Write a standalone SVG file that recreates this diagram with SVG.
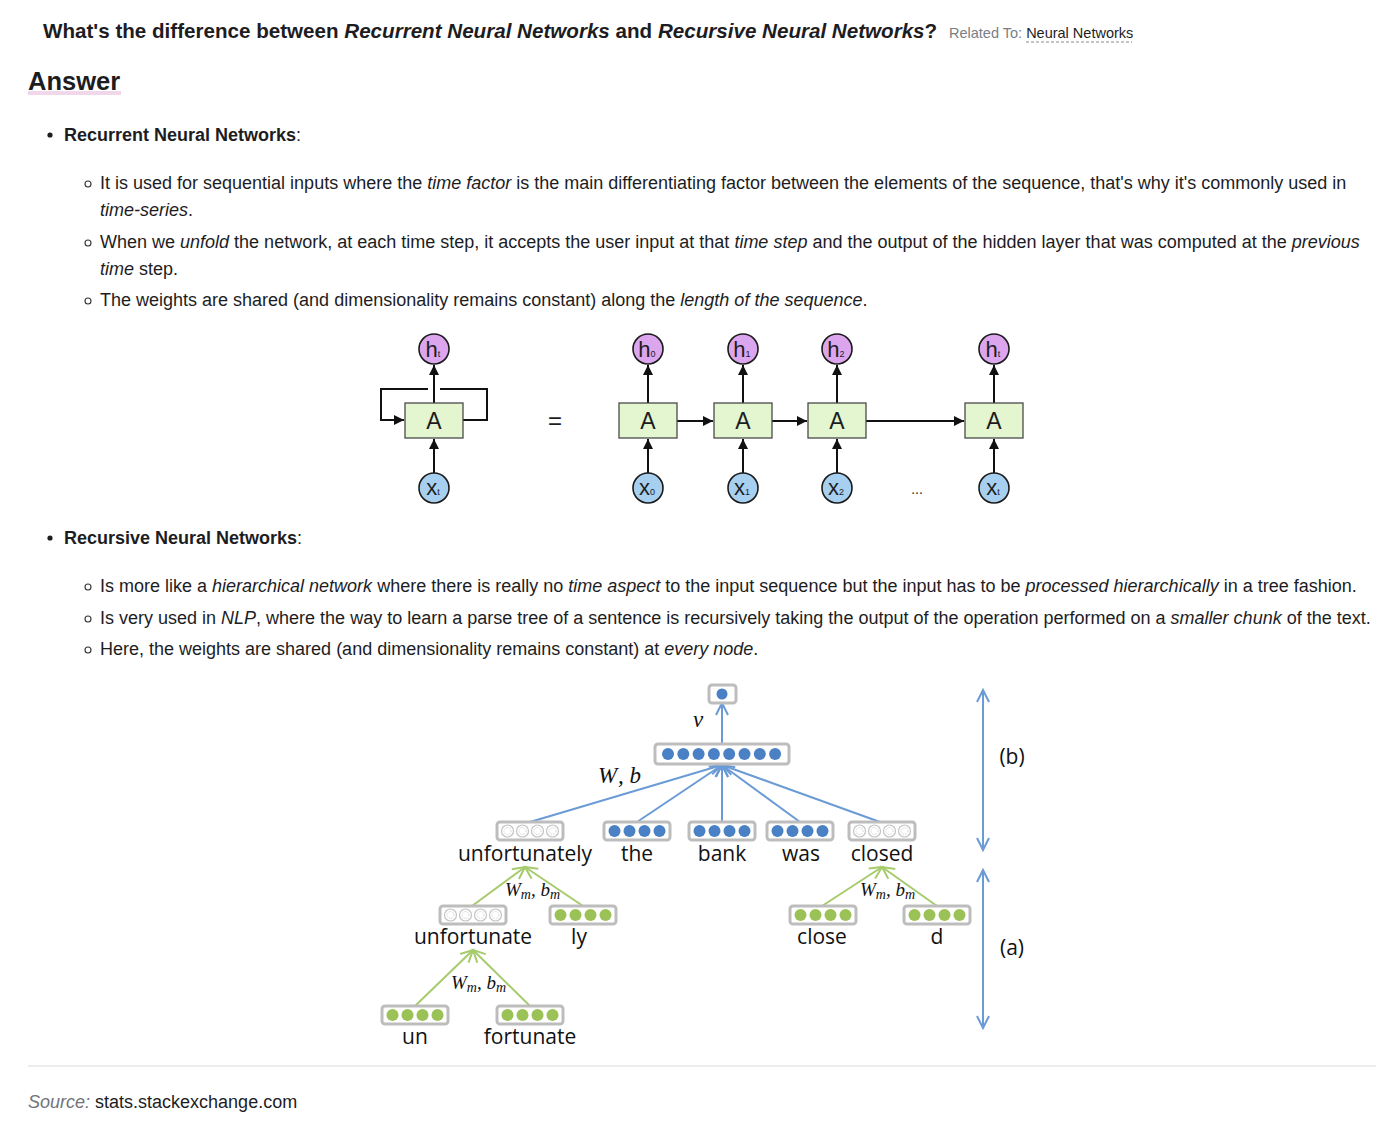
<svg xmlns="http://www.w3.org/2000/svg" width="1398" height="1126" viewBox="0 0 1398 1126">
<style>
text{font-family:"Liberation Sans",Arial,sans-serif;fill:#1d1d1f}
.b{font-size:18px}
.i{font-style:italic}
.h{font-weight:bold}
.box{fill:#e3f6cf;stroke:#4a4a4a;stroke-width:1.3}
.hc{fill:#dca6ee;stroke:#1a1a1a;stroke-width:1.6}
.xc{fill:#a7d0f0;stroke:#1a1a1a;stroke-width:1.6}
.bl{stroke:#111;stroke-width:2;fill:none}
.A{font-size:23px;text-anchor:middle}
.cl{font-size:22px;text-anchor:middle}
.sub{font-size:9px}
.vb{fill:#fff;stroke:#bdbdbd;stroke-width:3}
.bd{fill:#4a80c4}
.gd{fill:#9bc256}
.hd{fill:#fff;stroke:#c4c4c4;stroke-width:1.2}
.hi{fill:none;stroke:#cfcfcf;stroke-width:1;stroke-dasharray:1 1}
.blu{stroke:#6b9bd6;stroke-width:2;fill:none}
.grn{stroke:#a6cb6c;stroke-width:2;fill:none}
.w{font-family:"Open Sans","Lato",sans-serif;font-size:21px;text-anchor:middle;fill:#111}
.m{font-family:"Liberation Serif",serif;font-style:italic;fill:#111}
</style>
<defs>
<marker id="ab" markerUnits="userSpaceOnUse" markerWidth="12" markerHeight="12" refX="10" refY="6" orient="auto"><path d="M0,1 L10,6 L0,11 z" fill="#111"/></marker>
<marker id="cb" markerUnits="userSpaceOnUse" markerWidth="16" markerHeight="16" refX="13" refY="8" orient="auto-start-reverse"><path d="M1,2 L13,8 L1,14" fill="none" stroke="#6b9bd6" stroke-width="2"/></marker>
<marker id="cg" markerUnits="userSpaceOnUse" markerWidth="16" markerHeight="16" refX="13" refY="8" orient="auto"><path d="M1,2 L13,8 L1,14" fill="none" stroke="#a6cb6c" stroke-width="2"/></marker>
<g id="hollow4">
<circle class="hd" cx="0" cy="0" r="6"/><circle class="hi" cx="0" cy="0" r="3.5"/>
<circle class="hd" cx="15" cy="0" r="6"/><circle class="hi" cx="15" cy="0" r="3.5"/>
<circle class="hd" cx="30" cy="0" r="6"/><circle class="hi" cx="30" cy="0" r="3.5"/>
<circle class="hd" cx="45" cy="0" r="6"/><circle class="hi" cx="45" cy="0" r="3.5"/>
</g>
<g id="blue4"><circle class="bd" cx="0" cy="0" r="6"/><circle class="bd" cx="15" cy="0" r="6"/><circle class="bd" cx="30" cy="0" r="6"/><circle class="bd" cx="45" cy="0" r="6"/></g>
<g id="green4"><circle class="gd" cx="0" cy="0" r="6"/><circle class="gd" cx="15" cy="0" r="6"/><circle class="gd" cx="30" cy="0" r="6"/><circle class="gd" cx="45" cy="0" r="6"/></g>
</defs>
<rect width="1398" height="1126" fill="#fff"/>

<g id="header">
<text x="43" y="38" class="h" font-size="20.6">What's the difference between <tspan class="i">Recurrent Neural Networks</tspan> and <tspan class="i">Recursive Neural Networks</tspan>?</text>
<text x="949" y="38" font-size="14.5" style="fill:#7a7f85">Related To: <tspan style="fill:#1d1d1f">Neural Networks</tspan></text>
<line x1="1026" y1="42" x2="1132" y2="42" stroke="#888" stroke-width="1" stroke-dasharray="3 2"/>
<rect x="28" y="91" width="93" height="4" fill="#f0d8ea"/>
<text x="28" y="90" class="h" font-size="25.5">Answer</text>
</g>

<g id="text-rnn">
<circle cx="50" cy="135" r="2.6" fill="#1d1d1f"/>
<text x="64" y="141" class="b"><tspan class="h">Recurrent Neural Networks</tspan>:</text>
<circle cx="88" cy="184" r="3" fill="none" stroke="#333" stroke-width="1.1"/>
<text x="100" y="189" class="b">It is used for sequential inputs where the <tspan class="i">time factor</tspan> is the main differentiating factor between the elements of the sequence, that's why it's commonly used in</text>
<text x="100" y="216" class="b"><tspan class="i">time-series</tspan>.</text>
<circle cx="88" cy="243" r="3" fill="none" stroke="#333" stroke-width="1.1"/>
<text x="100" y="248" class="b">When we <tspan class="i">unfold</tspan> the network, at each time step, it accepts the user input at that <tspan class="i">time step</tspan> and the output of the hidden layer that was computed at the <tspan class="i">previous</tspan></text>
<text x="100" y="275" class="b"><tspan class="i">time</tspan> step.</text>
<circle cx="88" cy="301" r="3" fill="none" stroke="#333" stroke-width="1.1"/>
<text x="100" y="306" class="b">The weights are shared (and dimensionality remains constant) along the <tspan class="i">length of the sequence</tspan>.</text>
</g>

<g id="rnn-connectors">
<line class="bl" x1="434" y1="473" x2="434" y2="439" marker-end="url(#ab)"/>
<line class="bl" x1="434" y1="403" x2="434" y2="365" marker-end="url(#ab)"/>
<path class="bl" d="M463,420 H487 V389 H440 M428,389 H381 V420 H404" marker-end="url(#ab)"/>
<line class="bl" x1="648" y1="473" x2="648" y2="439" marker-end="url(#ab)"/>
<line class="bl" x1="648" y1="403" x2="648" y2="365" marker-end="url(#ab)"/>
<line class="bl" x1="743" y1="473" x2="743" y2="439" marker-end="url(#ab)"/>
<line class="bl" x1="743" y1="403" x2="743" y2="365" marker-end="url(#ab)"/>
<line class="bl" x1="837" y1="473" x2="837" y2="439" marker-end="url(#ab)"/>
<line class="bl" x1="837" y1="403" x2="837" y2="365" marker-end="url(#ab)"/>
<line class="bl" x1="994" y1="473" x2="994" y2="439" marker-end="url(#ab)"/>
<line class="bl" x1="994" y1="403" x2="994" y2="365" marker-end="url(#ab)"/>
<line class="bl" x1="677" y1="421" x2="713" y2="421" marker-end="url(#ab)"/>
<line class="bl" x1="772" y1="421" x2="807" y2="421" marker-end="url(#ab)"/>
<line class="bl" x1="866" y1="421" x2="964" y2="421" marker-end="url(#ab)"/>
</g>

<g id="rnn-folded">
<rect class="box" x="405" y="403" width="58" height="35"/><text x="434" y="429" class="A">A</text>
<circle class="hc" cx="434" cy="349" r="15"/><text x="433" y="357" class="cl">h<tspan class="sub">t</tspan></text>
<circle class="xc" cx="434" cy="488" r="15"/><text x="433" y="495" class="cl">x<tspan class="sub">t</tspan></text>
</g>
<text x="555" y="429" font-size="24" text-anchor="middle">=</text>

<g id="rnn-0">
<rect class="box" x="619" y="403" width="58" height="35"/><text x="648" y="429" class="A">A</text>
<circle class="hc" cx="648" cy="349" r="15"/><text x="647" y="357" class="cl">h<tspan class="sub">0</tspan></text>
<circle class="xc" cx="648" cy="488" r="15"/><text x="647" y="495" class="cl">x<tspan class="sub">0</tspan></text>
</g>
<g id="rnn-1">
<rect class="box" x="714" y="403" width="58" height="35"/><text x="743" y="429" class="A">A</text>
<circle class="hc" cx="743" cy="349" r="15"/><text x="742" y="357" class="cl">h<tspan class="sub">1</tspan></text>
<circle class="xc" cx="743" cy="488" r="15"/><text x="742" y="495" class="cl">x<tspan class="sub">1</tspan></text>
</g>
<g id="rnn-2">
<rect class="box" x="808" y="403" width="58" height="35"/><text x="837" y="429" class="A">A</text>
<circle class="hc" cx="837" cy="349" r="15"/><text x="836" y="357" class="cl">h<tspan class="sub">2</tspan></text>
<circle class="xc" cx="837" cy="488" r="15"/><text x="836" y="495" class="cl">x<tspan class="sub">2</tspan></text>
</g>
<text x="917" y="494" font-size="14" text-anchor="middle">...</text>
<g id="rnn-t">
<rect class="box" x="965" y="403" width="58" height="35"/><text x="994" y="429" class="A">A</text>
<circle class="hc" cx="994" cy="349" r="15"/><text x="993" y="357" class="cl">h<tspan class="sub">t</tspan></text>
<circle class="xc" cx="994" cy="488" r="15"/><text x="993" y="495" class="cl">x<tspan class="sub">t</tspan></text>
</g>

<g id="text-recursive">
<circle cx="50" cy="538" r="2.6" fill="#1d1d1f"/>
<text x="64" y="544" class="b"><tspan class="h">Recursive Neural Networks</tspan>:</text>
<circle cx="88" cy="587" r="3" fill="none" stroke="#333" stroke-width="1.1"/>
<text x="100" y="592" class="b">Is more like a <tspan class="i">hierarchical network</tspan> where there is really no <tspan class="i">time aspect</tspan> to the input sequence but the input has to be <tspan class="i">processed hierarchically</tspan> in a tree fashion.</text>
<circle cx="88" cy="619" r="3" fill="none" stroke="#333" stroke-width="1.1"/>
<text x="100" y="624" class="b">Is very used in <tspan class="i">NLP</tspan>, where the way to learn a parse tree of a sentence is recursively taking the output of the operation performed on a <tspan class="i">smaller chunk</tspan> of the text.</text>
<circle cx="88" cy="650" r="3" fill="none" stroke="#333" stroke-width="1.1"/>
<text x="100" y="655" class="b">Here, the weights are shared (and dimensionality remains constant) at <tspan class="i">every node</tspan>.</text>
</g>

<g id="tree-connectors">
<line class="blu" x1="722" y1="744" x2="722" y2="703" marker-end="url(#cb)"/>
<line class="blu" x1="530" y1="822" x2="722" y2="765" marker-end="url(#cb)"/>
<line class="blu" x1="637" y1="822" x2="722" y2="765" marker-end="url(#cb)"/>
<line class="blu" x1="722" y1="822" x2="722" y2="765" marker-end="url(#cb)"/>
<line class="blu" x1="800" y1="822" x2="722" y2="765" marker-end="url(#cb)"/>
<line class="blu" x1="880" y1="822" x2="722" y2="765" marker-end="url(#cb)"/>
<line class="grn" x1="472" y1="906" x2="525" y2="867" marker-end="url(#cg)"/>
<line class="grn" x1="583" y1="906" x2="525" y2="867" marker-end="url(#cg)"/>
<line class="grn" x1="822" y1="906" x2="882" y2="867" marker-end="url(#cg)"/>
<line class="grn" x1="937" y1="906" x2="882" y2="867" marker-end="url(#cg)"/>
<line class="grn" x1="415" y1="1006" x2="473" y2="950" marker-end="url(#cg)"/>
<line class="grn" x1="530" y1="1006" x2="473" y2="950" marker-end="url(#cg)"/>
<line class="blu" x1="983" y1="690" x2="983" y2="850" marker-start="url(#cb)" marker-end="url(#cb)"/>
<line class="blu" x1="983" y1="870" x2="983" y2="1028" marker-start="url(#cb)" marker-end="url(#cb)"/>
</g>

<g id="node-top">
<rect class="vb" x="709" y="685" width="27" height="18" rx="3"/>
<circle class="bd" cx="722" cy="694" r="5.5"/>
</g>
<text x="693" y="727" class="m" font-size="23">v</text>
<g id="node-root">
<rect class="vb" x="655" y="744" width="134" height="20" rx="3"/>
<circle class="bd" cx="668" cy="754" r="6"/><circle class="bd" cx="683.3" cy="754" r="6"/><circle class="bd" cx="698.6" cy="754" r="6"/><circle class="bd" cx="713.9" cy="754" r="6"/><circle class="bd" cx="729.2" cy="754" r="6"/><circle class="bd" cx="744.5" cy="754" r="6"/><circle class="bd" cx="759.8" cy="754" r="6"/><circle class="bd" cx="775.1" cy="754" r="6"/>
</g>
<text x="598" y="783" class="m" font-size="23">W<tspan dx="3">, </tspan>b</text>

<g id="node-unfortunately">
<rect class="vb" x="497" y="822" width="66" height="18" rx="3"/>
<use href="#hollow4" x="507.5" y="831"/>
<text x="525" y="861" class="w">unfortunately</text>
</g>
<g id="node-the">
<rect class="vb" x="604" y="822" width="66" height="18" rx="3"/>
<use href="#blue4" x="614.5" y="831"/>
<text x="637" y="861" class="w">the</text>
</g>
<g id="node-bank">
<rect class="vb" x="689" y="822" width="66" height="18" rx="3"/>
<use href="#blue4" x="699.5" y="831"/>
<text x="722" y="861" class="w">bank</text>
</g>
<g id="node-was">
<rect class="vb" x="767" y="822" width="66" height="18" rx="3"/>
<use href="#blue4" x="777.5" y="831"/>
<text x="801" y="861" class="w">was</text>
</g>
<g id="node-closed">
<rect class="vb" x="849" y="822" width="66" height="18" rx="3"/>
<use href="#hollow4" x="859.5" y="831"/>
<text x="882" y="861" class="w">closed</text>
</g>

<text x="505" y="896" class="m" font-size="19">W<tspan font-size="14" dy="3">m</tspan><tspan dy="-3">, b</tspan><tspan font-size="14" dy="3">m</tspan></text>
<text x="860" y="896" class="m" font-size="19">W<tspan font-size="14" dy="3">m</tspan><tspan dy="-3">, b</tspan><tspan font-size="14" dy="3">m</tspan></text>
<text x="451" y="989" class="m" font-size="19">W<tspan font-size="14" dy="3">m</tspan><tspan dy="-3">, b</tspan><tspan font-size="14" dy="3">m</tspan></text>

<g id="node-unfortunate">
<rect class="vb" x="440" y="906" width="66" height="18" rx="3"/>
<use href="#hollow4" x="450.5" y="915"/>
<text x="473" y="944" class="w">unfortunate</text>
</g>
<g id="node-ly">
<rect class="vb" x="550" y="906" width="66" height="18" rx="3"/>
<use href="#green4" x="560.5" y="915"/>
<text x="579" y="944" class="w">ly</text>
</g>
<g id="node-close">
<rect class="vb" x="790" y="906" width="66" height="18" rx="3"/>
<use href="#green4" x="800.5" y="915"/>
<text x="822" y="944" class="w">close</text>
</g>
<g id="node-d">
<rect class="vb" x="904" y="906" width="66" height="18" rx="3"/>
<use href="#green4" x="914.5" y="915"/>
<text x="937" y="944" class="w">d</text>
</g>
<g id="node-un">
<rect class="vb" x="382" y="1006" width="66" height="18" rx="3"/>
<use href="#green4" x="392.5" y="1015"/>
<text x="415" y="1044" class="w">un</text>
</g>
<g id="node-fortunate">
<rect class="vb" x="497" y="1006" width="66" height="18" rx="3"/>
<use href="#green4" x="507.5" y="1015"/>
<text x="530" y="1044" class="w">fortunate</text>
</g>

<text x="1012" y="764" class="w">(b)</text>
<text x="1012" y="955" class="w">(a)</text>

<g id="footer">
<line x1="28" y1="1066" x2="1376" y2="1066" stroke="#e6e6e6" stroke-width="1.5"/>
<text x="28" y="1108" class="b"><tspan class="i" style="fill:#6f747a">Source:</tspan> stats.stackexchange.com</text>
</g>
</svg>
